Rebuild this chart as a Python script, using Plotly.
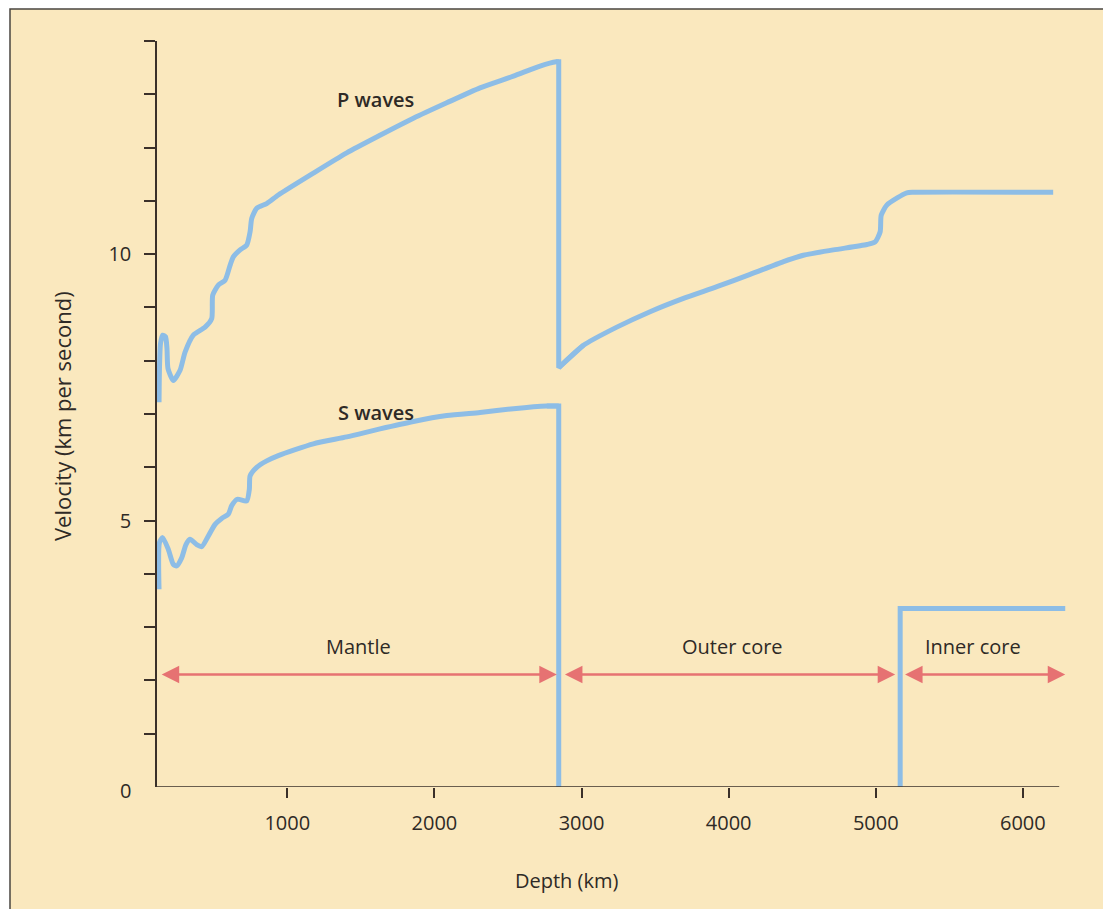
import plotly.graph_objects as go

# ---------------- data ----------------
p_depth = [128, 131, 138, 153, 172, 182, 189, 225, 271, 305, 361, 441, 486, 493, 531,
           577, 611, 633, 679, 724, 747, 758, 792, 860, 939, 1177, 1404, 1630, 1857,
           2084, 2310, 2537, 2718, 2827, 2845,
           2845, 3013, 3240, 3466, 3693, 3920, 4146, 4373, 4508, 4712, 4940, 4996,
           5030, 5037, 5075, 5143, 5211, 5254, 6206]
p_velocity = [7.22, 7.85, 8.32, 8.48, 8.45, 8.23, 7.85, 7.63, 7.82, 8.16, 8.48, 8.63, 8.79, 9.23, 9.42,
              9.51, 9.79, 9.95, 10.08, 10.17, 10.42, 10.67, 10.86, 10.95, 11.11, 11.52, 11.90, 12.23, 12.55,
              12.84, 13.12, 13.34, 13.53, 13.61, 13.61,
              7.87, 8.29, 8.63, 8.92, 9.17, 9.39, 9.62, 9.86, 9.98, 10.08, 10.18, 10.23,
              10.42, 10.73, 10.92, 11.05, 11.15, 11.16, 11.16]

s_depth = [128, 131, 153, 191, 225, 248, 282, 311, 339, 384, 418, 463, 509, 554, 599,
           622, 660, 724, 742, 747, 792, 860, 939, 1177, 1404, 1630, 1857, 2084, 2310,
           2537, 2764, 2845, 2845]
s_velocity = [3.71, 4.59, 4.68, 4.46, 4.18, 4.15, 4.30, 4.55, 4.65, 4.55, 4.51, 4.71, 4.93, 5.04, 5.12,
              5.28, 5.40, 5.37, 5.59, 5.84, 6.00, 6.12, 6.22, 6.44, 6.57, 6.72, 6.86, 6.97, 7.03,
              7.10, 7.15, 7.15, 0]

s_inner_depth = [5166, 5166, 6288]
s_inner_velocity = [0, 3.35, 3.35]

wave_labels = ["P waves", "S waves"]
wave_label_depth = [1600, 1603]
wave_label_velocity = [12.9, 7.03]

regions = ["Mantle", "Outer core", "Inner core"]
region_start = [136, 2877, 5189]
region_end = [2832, 5132, 6288]
region_label_depth = [1487, 4024, 5662]
region_arrow_velocity = 2.11
region_label_velocity = 2.64

y_tick_vals = list(range(1, 15))
y_tick_text = ["5" if v == 5 else "10" if v == 10 else "" for v in y_tick_vals]
x_tick_vals = [1000, 2000, 3000, 4000, 5000, 6000]
x_tick_text = ["1000", "2000", "3000", "4000", "5000", "6000"]

x_title = "Depth (km)"
y_title = "Velocity (km per second)"

# ---------------- style ----------------
OFF = 8                      # page body margin of the browser
W, H = 1111 - OFF, 909 - OFF
ML, MR, MT, MB = 157 - OFF, 44, 41 - OFF, 122
PW, PH = W - ML - MR, H - MT - MB
X_MIN, X_MAX, X_AXIS_END = 114.2, 6300, 6247

CREAM = "#fae8be"
BLUE = "#8dbde6"
RED = "#e67272"
INK = "#2e2a26"
AXIS = "#3a3029"
FONT = "Open Sans"


def px_x(sx):
    return (sx - OFF - ML) / PW


def px_y(sy):
    return (H - MB - (sy - OFF)) / PH


def line_trace(xs, ys, shape):
    return go.Scatter(x=xs, y=ys, mode="lines", hoverinfo="skip",
                      line=dict(color=BLUE, width=5, shape=shape, smoothing=0.6))


fig = go.Figure()

# P waves: smooth mantle and core curves, straight drop at the core-mantle boundary
fig.add_trace(line_trace(p_depth[:35], p_velocity[:35], "spline"))
fig.add_trace(line_trace(p_depth[35:], p_velocity[35:], "spline"))
fig.add_trace(line_trace(p_depth[33:37], p_velocity[33:37], "linear"))
# S waves
fig.add_trace(line_trace(s_depth[:32], s_velocity[:32], "spline"))
fig.add_trace(line_trace(s_depth[30:], s_velocity[30:], "linear"))
fig.add_trace(line_trace(s_inner_depth, s_inner_velocity, "linear"))

annotations = []
for t, xd, yv in zip(wave_labels, wave_label_depth, wave_label_velocity):
    annotations.append(dict(x=xd, y=yv, xref="x", yref="y", text=t, showarrow=False,
                            xanchor="center", yanchor="middle",
                            font=dict(family=FONT, size=20, color=INK, weight=600)))

for name, x0, x1, xl in zip(regions, region_start, region_end, region_label_depth):
    annotations.append(dict(x=x1, y=region_arrow_velocity, ax=x0, ay=region_arrow_velocity,
                            xref="x", yref="y", axref="x", ayref="y", text="",
                            showarrow=True, arrowside="end+start",
                            arrowhead=2, startarrowhead=2, arrowsize=1.4, startarrowsize=1.4,
                            arrowwidth=2.5, arrowcolor=RED, standoff=0, startstandoff=0))
    annotations.append(dict(x=xl, y=region_label_velocity, xref="x", yref="y", text=name,
                            showarrow=False, xanchor="center", yanchor="middle",
                            font=dict(family=FONT, size=20, color=INK)))

annotations.append(dict(x=px_x(133), y=0, xref="paper", yref="y", text="0", showarrow=False,
                        xanchor="right", yanchor="middle", yshift=-3,
                        font=dict(family=FONT, size=20, color=INK)))
annotations.append(dict(x=px_x(566), y=px_y(880), xref="paper", yref="paper", text=x_title,
                        showarrow=False, xanchor="center", yanchor="middle",
                        font=dict(family=FONT, size=20, color=INK)))
annotations.append(dict(x=px_x(62), y=px_y(416), xref="paper", yref="paper", text=y_title,
                        textangle=-90, showarrow=False, xanchor="center", yanchor="middle",
                        font=dict(family=FONT, size=22, color=INK)))

shapes = [
    dict(type="rect", xref="paper", yref="paper", x0=px_x(10), x1=px_x(1105),
         y0=px_y(940), y1=px_y(9), fillcolor=CREAM, line=dict(color="#4a4540", width=1.5),
         layer="below"),
    dict(type="line", xref="x", yref="y", x0=X_MIN, x1=X_AXIS_END, y0=0, y1=0,
         line=dict(color=AXIS, width=1.5), layer="above"),
]

fig.update_layout(
    width=W, height=H,
    margin=dict(l=ML, r=MR, t=MT, b=MB, pad=0),
    paper_bgcolor="white",
    plot_bgcolor="rgba(0,0,0,0)",
    showlegend=False,
    font=dict(family=FONT, color=INK),
    xaxis=dict(range=[X_MIN, X_MAX], showgrid=False, zeroline=False, showline=False,
               tickvals=x_tick_vals, ticktext=x_tick_text, ticks="outside", ticklen=10,
               tickwidth=1.5, tickcolor=AXIS, ticklabelstandoff=8,
               tickfont=dict(family=FONT, size=20, color=INK)),
    yaxis=dict(range=[0, 14], showgrid=False, zeroline=False, showline=True,
               linecolor=AXIS, linewidth=1.5,
               tickvals=y_tick_vals, ticktext=y_tick_text, ticks="outside", ticklen=11,
               tickwidth=1.5, tickcolor=AXIS, ticklabelstandoff=9,
               tickfont=dict(family=FONT, size=20, color=INK)),
    annotations=annotations,
    shapes=shapes,
)

fig.write_html("out.html")
